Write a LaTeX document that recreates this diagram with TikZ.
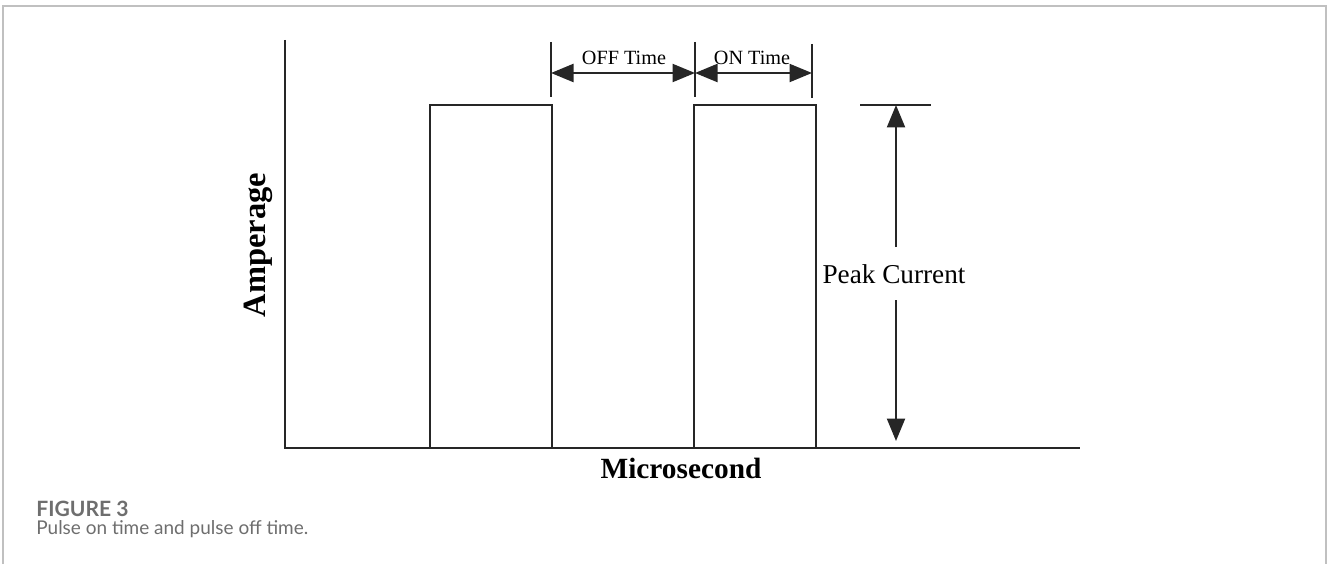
\documentclass[tikz,border=0pt]{standalone}
\usepackage{fontspec}
\setmainfont{Liberation Serif}
\newfontfamily\capfont{Lato}
\usepackage{xcolor}
\usetikzlibrary{arrows.meta,positioning,calc}
\definecolor{framecol}{RGB}{192,192,192}
\definecolor{capcol}{RGB}{110,110,110}
\tikzset{
  axisline/.style={line width=1.1pt,black!85},
  pulseline/.style={line width=1.1pt,black!85},
  dimarrow/.style={line width=1.3pt,black!85,{Triangle[length=4.5mm,width=3.6mm]}-{Triangle[length=4.5mm,width=3.6mm]}},
  peakarrow/.style={line width=1.3pt,black!85,-{Triangle[length=4.5mm,width=3.6mm]}},
  tickline/.style={line width=1pt,black!85}
}

\begin{document}
\begin{tikzpicture}[x=0.02cm,y=-0.02cm]
  \useasboundingbox (0,0) rectangle (1327,564);
  % page frame, open at the bottom
  \draw[framecol,line width=0.9pt] (3,564)--(3,6)--(1326,6)--(1326,564);
  % axes
  \coordinate (orig) at (285,448);
  \coordinate (ytop) at (285,40);
  \coordinate (xend) at (1080,448);
  \draw[axisline] (ytop)--(orig)--(xend);
  % pulses
  \draw[pulseline] (430,448)--(430,105)--(552,105)--(552,448);
  \draw[pulseline] (694,448)--(694,105)--(816,105)--(816,448);
  % time marks
  \coordinate (t1) at (551,73);
  \coordinate (t2) at (695,73);
  \coordinate (t3) at (812,73);
  \draw[tickline] (551,42)--(551,97);
  \draw[tickline] (695,42)--(695,97);
  \draw[tickline] (812,44)--(812,98);
  \draw[dimarrow] (t1)--(t2);
  \draw[dimarrow] (t2)--(t3);
  \node[font=\fontsize{11.5}{13}\selectfont] (offlbl) at (624,58) {OFF Time};
  \node[font=\fontsize{11.5}{13}\selectfont] (onlbl) at (752,58) {ON Time};
  % peak current
  \draw[tickline] (860,105)--(931,105);
  \node[font=\fontsize{15.5}{17}\selectfont] (peak) at (894,274) {Peak Current};
  \coordinate (ptop) at (896,105);
  \coordinate (pbot) at (896,441);
  \draw[peakarrow] (896,247)--(ptop);
  \draw[peakarrow] (896,300)--(pbot);
  % axis titles
  \node[font=\bfseries\fontsize{18.5}{20}\selectfont,rotate=90] (ylbl) at (258,245) {Amperage};
  \node[font=\bfseries\fontsize{16.7}{18}\selectfont] (xlbl) at (681,468) {Microsecond};
  % caption
  \node[anchor=base west,inner sep=0pt,text=capcol,font=\capfont\bfseries\fontsize{12}{14}\selectfont] (fignum) at (36,516) {FIGURE 3};
  \node[anchor=base west,inner sep=0pt,text=capcol,font=\capfont\fontsize{10.8}{13}\selectfont] (figcap) at (36,534) {Pulse on time and pulse off time.};
\end{tikzpicture}
\end{document}
